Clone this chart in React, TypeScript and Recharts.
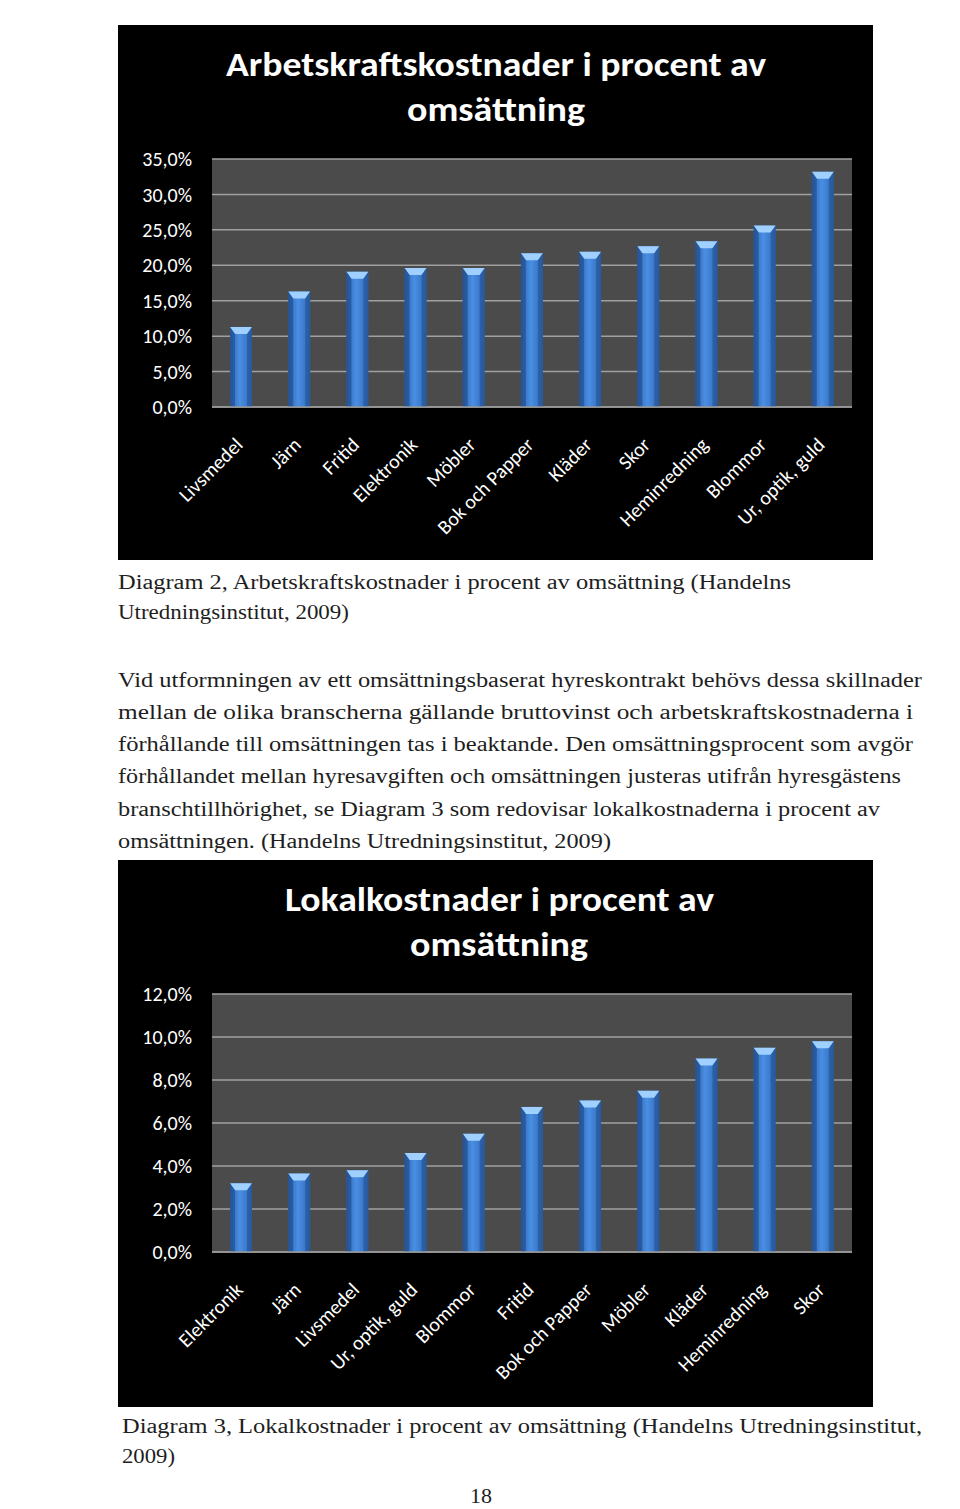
import React from 'react';
import { BarChart, Bar, XAxis, YAxis, CartesianGrid } from 'recharts';

const laborCategories = ['Livsmedel', 'Järn', 'Fritid', 'Elektronik', 'Möbler', 'Bok och Papper', 'Kläder', 'Skor', 'Heminredning', 'Blommor', 'Ur, optik, guld'];
const laborValues = [11.3, 16.3, 19.1, 19.6, 19.6, 21.7, 21.9, 22.7, 23.4, 25.6, 33.2];
const laborTicks = [0, 5, 10, 15, 20, 25, 30, 35];

const premisesCategories = ['Elektronik', 'Järn', 'Livsmedel', 'Ur, optik, guld', 'Blommor', 'Fritid', 'Bok och Papper', 'Möbler', 'Kläder', 'Heminredning', 'Skor'];
const premisesValues = [3.2, 3.65, 3.8, 4.6, 5.5, 6.75, 7.05, 7.5, 9.0, 9.5, 9.8];
const premisesTicks = [0, 2, 4, 6, 8, 10, 12];

const laborTitle = ['Arbetskraftskostnader i procent av', 'omsättning'];
const premisesTitle = ['Lokalkostnader i procent av', 'omsättning'];

const caption1 = ['Diagram 2, Arbetskraftskostnader i procent av omsättning (Handelns', 'Utredningsinstitut, 2009)'];
const paragraph = [
  'Vid utformningen av ett omsättningsbaserat hyreskontrakt behövs dessa skillnader',
  'mellan de olika branscherna gällande bruttovinst och arbetskraftskostnaderna i',
  'förhållande till omsättningen tas i beaktande. Den omsättningsprocent som avgör',
  'förhållandet mellan hyresavgiften och omsättningen justeras utifrån hyresgästens',
  'branschtillhörighet, se Diagram 3 som redovisar lokalkostnaderna i procent av',
  'omsättningen. (Handelns Utredningsinstitut, 2009)',
];
const caption2 = ['Diagram 3, Lokalkostnader i procent av omsättning (Handelns Utredningsinstitut,', '2009)'];
const pageNumber = '18';

const laborData = laborCategories.map((name, i) => ({ name, value: laborValues[i] }));
const premisesData = premisesCategories.map((name, i) => ({ name, value: premisesValues[i] }));

const SANS = 'Carlito, Calibri, Lato, "Open Sans", sans-serif';
const SERIF = '"Liberation Serif", "DejaVu Serif", serif';

const pct = (v: number) => v.toFixed(1).replace('.', ',') + '%';

const BarShape = (props: any) => {
  const { x, y, width, height } = props;
  if (!height || height <= 0) return null;
  const bev = 7;
  return (
    <g>
      <rect x={x} y={y} width={width} height={height} fill="url(#barGrad)" />
      <polygon
        points={`${x},${y} ${x + width},${y} ${x + width - 5},${y + bev} ${x + 5},${y + bev}`}
        fill="#9fd0ff"
      />
      <polygon points={`${x},${y} ${x + 5},${y + bev} ${x + 5},${y + height} ${x},${y + height}`} fill="#1d4680" opacity={0.55} />
      <polygon points={`${x + width},${y} ${x + width - 5},${y + bev} ${x + width - 5},${y + height} ${x + width},${y + height}`} fill="#1d4680" opacity={0.45} />
    </g>
  );
};

const XTick = (props: any) => {
  const { x, y, payload } = props;
  const ax = x + 3;
  const ay = y + 39;
  return (
    <text
      x={ax}
      y={ay}
      transform={`rotate(-45 ${ax} ${ay})`}
      textAnchor="end"
      fill="#ffffff"
      fontSize={20}
      fontFamily={SANS}
    >
      {payload.value}
    </text>
  );
};

type ChartProps = {
  data: { name: string; value: number }[];
  ticks: number[];
  max: number;
  width: number;
  height: number;
  xAxisHeight: number;
};

const Chart = ({ data, ticks, max, width, height, xAxisHeight }: ChartProps) => (
  <BarChart
    width={width}
    height={height}
    data={data}
    margin={{ top: 134, right: 21, bottom: 0, left: 0 }}
    style={{ background: '#000' }}
    barCategoryGap="62%"
  >
    <defs>
      <linearGradient id="barGrad" x1="0" y1="0" x2="1" y2="0">
        <stop offset="0%" stopColor="#2e65b5" />
        <stop offset="45%" stopColor="#4a8fe3" />
        <stop offset="100%" stopColor="#2f68b8" />
      </linearGradient>
    </defs>
    <CartesianGrid vertical={false} stroke="#a0a0a0" strokeWidth={1.5} fill="#4b4b4b" fillOpacity={1} />
    <YAxis
      width={94}
      domain={[0, max]}
      ticks={ticks}
      tickFormatter={pct}
      axisLine={false}
      tickLine={false}
      tickSize={0}
      tickMargin={20}
      tick={{ fill: '#ffffff', fontSize: 20, fontFamily: SANS }}
    />
    <XAxis
      dataKey="name"
      height={xAxisHeight}
      interval={0}
      axisLine={{ stroke: '#9a9a9a', strokeWidth: 1.5 }}
      tickLine={false}
      tickSize={0}
      tickMargin={0}
      tick={<XTick />}
    />
    <Bar dataKey="value" barSize={22} isAnimationActive={false} shape={<BarShape />} />
  </BarChart>
);

type Line = { text: string; x: number; y: number; w: number };

const TextLines = ({ lines, size, family, weight, fill }: { lines: Line[]; size: number; family: string; weight?: string; fill: string }) => (
  <>
    {lines.map((l, i) => (
      <text
        key={i}
        x={l.x}
        y={l.y}
        fontSize={size}
        fontFamily={family}
        fontWeight={weight || 'normal'}
        fill={fill}
        textLength={l.w}
        lengthAdjust="spacingAndGlyphs"
      >
        {l.text}
      </text>
    ))}
  </>
);

export default function App() {
  const bodyLines: Line[] = [
    { text: caption1[0], x: 118, y: 589, w: 673 },
    { text: caption1[1], x: 118, y: 619, w: 231 },
    { text: paragraph[0], x: 118, y: 687, w: 804 },
    { text: paragraph[1], x: 118, y: 719, w: 795 },
    { text: paragraph[2], x: 118, y: 751, w: 795 },
    { text: paragraph[3], x: 118, y: 783, w: 783 },
    { text: paragraph[4], x: 118, y: 816, w: 762 },
    { text: paragraph[5], x: 118, y: 848, w: 493 },
    { text: caption2[0], x: 122, y: 1433, w: 800 },
    { text: caption2[1], x: 122, y: 1463, w: 53 },
    { text: pageNumber, x: 470, y: 1503, w: 22 },
  ];

  const title1: Line[] = [
    { text: laborTitle[0], x: 108, y: 51, w: 540 },
    { text: laborTitle[1], x: 289, y: 96, w: 178 },
  ];
  const title2: Line[] = [
    { text: premisesTitle[0], x: 167, y: 51, w: 429 },
    { text: premisesTitle[1], x: 292, y: 96, w: 178 },
  ];

  return (
    <div style={{ position: 'absolute', left: 0, top: 0, width: 960, height: 1509, background: '#fff', overflow: 'hidden' }}>
      <svg style={{ position: 'absolute', left: 0, top: 0 }} width={960} height={1509}>
        <TextLines lines={bodyLines} size={20} family={SERIF} fill="#1e1e1e" />
      </svg>

      <div style={{ position: 'absolute', left: 118, top: 25, width: 755, height: 535 }}>
        <Chart data={laborData} ticks={laborTicks} max={35} width={755} height={535} xAxisHeight={153} />
        <svg style={{ position: 'absolute', left: 0, top: 0, pointerEvents: 'none' }} width={755} height={130}>
          <TextLines lines={title1} size={34} family={SANS} weight="bold" fill="#ffffff" />
        </svg>
      </div>

      <div style={{ position: 'absolute', left: 118, top: 860, width: 755, height: 547 }}>
        <Chart data={premisesData} ticks={premisesTicks} max={12} width={755} height={547} xAxisHeight={155} />
        <svg style={{ position: 'absolute', left: 0, top: 0, pointerEvents: 'none' }} width={755} height={130}>
          <TextLines lines={title2} size={34} family={SANS} weight="bold" fill="#ffffff" />
        </svg>
      </div>
    </div>
  );
}
